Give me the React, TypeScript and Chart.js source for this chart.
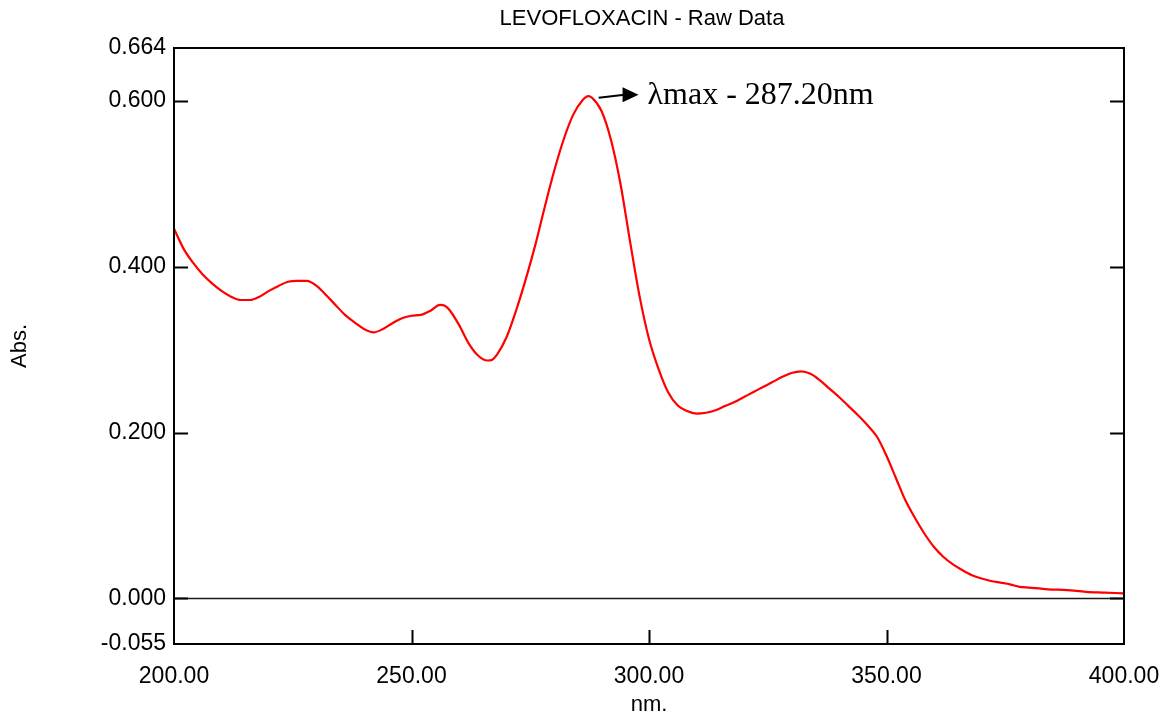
import React, { useEffect, useRef } from "react";
import { Chart, registerables } from "chart.js";

Chart.register(...registerables);

// ---- data ----
const wavelengths = [
  200, 202, 204, 206, 208, 210, 212, 214, 216, 218, 220, 222, 224, 226, 228, 230,
  232, 234, 236, 238, 240, 242, 244, 246, 248, 250, 252, 254, 256, 257, 258, 260,
  262, 264, 266, 267, 268, 270, 272, 274, 276, 278, 280, 282, 284, 286, 287.2, 288,
  290, 292, 294, 296, 298, 300, 302, 304, 306, 308, 310, 312, 314, 316, 318, 320,
  322, 324, 326, 328, 330, 332, 334, 336, 338, 340, 342, 344, 346, 348, 350, 352,
  354, 356, 358, 360, 362, 364, 366, 368, 370, 372, 374, 376, 378, 380, 384, 388,
  392, 396, 400,
];
const absorbance = [
  0.446, 0.422, 0.405, 0.391, 0.38, 0.371, 0.364, 0.36, 0.36, 0.364, 0.371, 0.377, 0.382, 0.383, 0.383, 0.377,
  0.366, 0.354, 0.342, 0.333, 0.325, 0.321, 0.325, 0.332, 0.338, 0.341, 0.342, 0.347, 0.354, 0.353, 0.348, 0.33,
  0.308, 0.293, 0.287, 0.288, 0.294, 0.315, 0.347, 0.384, 0.425, 0.471, 0.515, 0.553, 0.583, 0.601, 0.606, 0.604,
  0.588, 0.553, 0.5, 0.431, 0.365, 0.313, 0.277, 0.249, 0.233, 0.226, 0.223, 0.224, 0.227, 0.232, 0.237, 0.243,
  0.249, 0.255, 0.261, 0.267, 0.272, 0.274, 0.271, 0.263, 0.253, 0.243, 0.232, 0.221, 0.209, 0.195, 0.172, 0.145,
  0.118, 0.097, 0.078, 0.062, 0.05, 0.041, 0.034, 0.028, 0.024, 0.021, 0.019, 0.017, 0.014, 0.013, 0.011, 0.01,
  0.008, 0.007, 0.006,
];
const xTickValues = [200, 250, 300, 350, 400];
const yTickValues = [-0.055, 0, 0.2, 0.4, 0.6, 0.664];
const xMarkedTicks = [250, 300, 350];
const yMarkedTicks = [0, 0.2, 0.4, 0.6];
const titleText = "LEVOFLOXACIN - Raw Data";
const xTitleText = "nm.";
const yTitleText = "Abs.";
const peakNm = 287.2;
const peakAbs = 0.606;
const peakLabel = "λmax - 287.20nm";

const SANS = "'Liberation Sans', Arial, sans-serif";
const SERIF = "'Liberation Serif', 'Times New Roman', serif";

const framePlugin = {
  id: "framePlugin",
  beforeDatasetsDraw(chart: any) {
    const { ctx, chartArea } = chart;
    const y = chart.scales.y;
    const y0 = y.getPixelForValue(0);
    ctx.save();
    ctx.strokeStyle = "#1a1a1a";
    ctx.lineWidth = 1.5;
    ctx.beginPath();
    ctx.moveTo(chartArea.left, y0);
    ctx.lineTo(chartArea.right, y0);
    ctx.stroke();
    ctx.restore();
  },
  afterDatasetsDraw(chart: any) {
    const { ctx, chartArea } = chart;
    const xs = chart.scales.x;
    const ys = chart.scales.y;
    const tickLen = 14;
    ctx.save();
    ctx.strokeStyle = "#000";
    ctx.lineWidth = 2;
    ctx.strokeRect(chartArea.left, chartArea.top, chartArea.right - chartArea.left, chartArea.bottom - chartArea.top);
    ctx.beginPath();
    for (const v of yMarkedTicks) {
      const py = Math.round(ys.getPixelForValue(v)) + 0.5;
      ctx.moveTo(chartArea.left, py);
      ctx.lineTo(chartArea.left + tickLen, py);
      ctx.moveTo(chartArea.right, py);
      ctx.lineTo(chartArea.right - tickLen, py);
    }
    for (const v of xMarkedTicks) {
      const px = Math.round(xs.getPixelForValue(v)) + 0.5;
      ctx.moveTo(px, chartArea.bottom);
      ctx.lineTo(px, chartArea.bottom - tickLen);
    }
    ctx.stroke();

    // title
    ctx.fillStyle = "#000";
    ctx.font = `22px ${SANS}`;
    ctx.textAlign = "center";
    ctx.textBaseline = "middle";
    ctx.fillText(titleText, (chartArea.left + chartArea.right) / 2 - 7, 19);

    // peak annotation
    const sx = xs.getPixelForValue(peakNm + 2.2);
    const sy = ys.getPixelForValue(peakAbs - 0.002);
    const tipX = xs.getPixelForValue(peakNm + 10.6);
    const tipY = ys.getPixelForValue(peakAbs + 0.0015);
    ctx.lineWidth = 2;
    ctx.beginPath();
    ctx.moveTo(sx, sy);
    ctx.lineTo(tipX - 14, tipY);
    ctx.stroke();
    ctx.beginPath();
    ctx.moveTo(tipX, tipY);
    ctx.lineTo(tipX - 16, tipY - 7.5);
    ctx.lineTo(tipX - 16, tipY + 7.5);
    ctx.closePath();
    ctx.fill();
    ctx.font = `32px ${SERIF}`;
    ctx.textAlign = "left";
    ctx.textBaseline = "alphabetic";
    ctx.fillText(peakLabel, xs.getPixelForValue(peakNm + 12.5), ys.getPixelForValue(peakAbs - 0.0095));
    ctx.restore();
  },
};

export default function App() {
  const canvasRef = useRef<HTMLCanvasElement | null>(null);

  useEffect(() => {
    if (!canvasRef.current) return;
    const points = wavelengths.map((w, i) => ({ x: w, y: absorbance[i] }));
    const chart = new Chart(canvasRef.current, {
      type: "line",
      data: {
        datasets: [
          {
            data: points,
            borderColor: "#ff0000",
            borderWidth: 2.2,
            pointRadius: 0,
            fill: false,
            cubicInterpolationMode: "monotone",
          },
        ],
      },
      options: {
        responsive: false,
        animation: false,
        devicePixelRatio: 1,
        layout: { padding: { top: 48, right: 42, left: 0, bottom: 0 } },
        plugins: {
          legend: { display: false },
          title: { display: false },
          tooltip: { enabled: false },
        },
        scales: {
          x: {
            type: "linear",
            min: 200,
            max: 400,
            afterBuildTicks: (s: any) => {
              s.ticks = xTickValues.map((v) => ({ value: v }));
            },
            afterFit: (s: any) => {
              s.height = 78;
              s.paddingLeft = 0;
              s.paddingRight = 0;
            },
            ticks: {
              autoSkip: false,
              maxRotation: 0,
              color: "#000",
              padding: 19,
              font: { family: SANS, size: 23 },
              callback: (v: any) => Number(v).toFixed(2),
            },
            grid: { display: false, drawTicks: false },
            border: { display: false },
            title: {
              display: true,
              text: xTitleText,
              color: "#000",
              font: { family: SANS, size: 22 },
              padding: { top: 0, bottom: 4 },
            },
          },
          y: {
            type: "linear",
            min: -0.055,
            max: 0.664,
            afterBuildTicks: (s: any) => {
              s.ticks = yTickValues.map((v) => ({ value: v }));
            },
            afterFit: (s: any) => {
              s.width = 174;
              s.paddingTop = 0;
              s.paddingBottom = 0;
            },
            ticks: {
              autoSkip: false,
              color: "#000",
              padding: 8,
              font: { family: SANS, size: 23 },
              callback: (v: any) => Number(v).toFixed(3),
            },
            grid: { display: false, drawTicks: false },
            border: { display: false },
            title: {
              display: true,
              text: yTitleText,
              color: "#000",
              font: { family: SANS, size: 22 },
              padding: { top: 7, bottom: 0 },
            },
          },
        },
      },
      plugins: [framePlugin],
    } as any);
    return () => chart.destroy();
  }, []);

  return (
    <div style={{ position: "absolute", left: 0, top: 0, width: 1166, height: 722, background: "#fff" }}>
      <canvas ref={canvasRef} width={1166} height={722} style={{ width: 1166, height: 722 }} />
    </div>
  );
}
